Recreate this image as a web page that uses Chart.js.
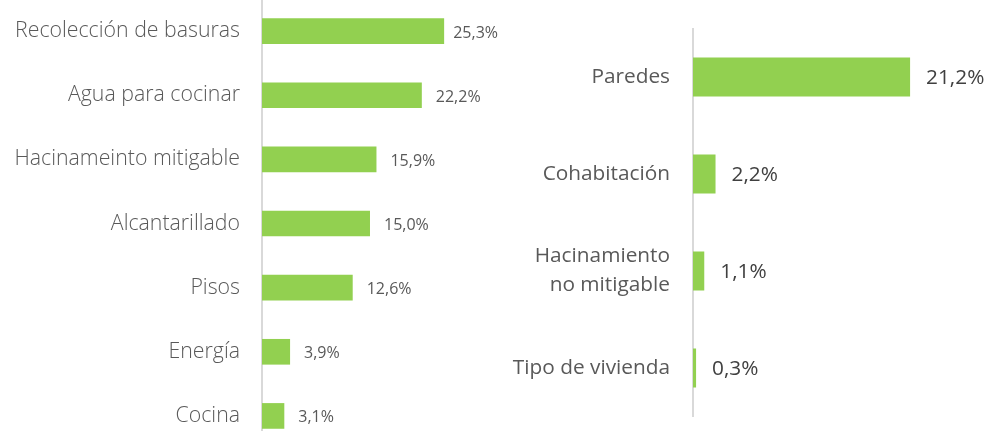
<!DOCTYPE html>
<html>
<head>
<meta charset="utf-8">
<script src="https://cdn.jsdelivr.net/npm/chart.js@4.4.1/dist/chart.umd.min.js"></script>
<style>
  html, body { margin: 0; padding: 0; background: #fff; overflow: hidden; }
  body { width: 992px; height: 431px; position: relative; }
  canvas { position: absolute; }
  #left { left: 0; top: -1px; }
  #right { left: 500px; top: 0; }
</style>
</head>
<body>
<canvas id="left" width="500" height="449"></canvas>
<canvas id="right" width="492" height="431"></canvas>
<script>
/* Two horizontal bar charts: deficit components (%) */
var leftLabels = [
  "Recolección de basuras",
  "Agua para cocinar",
  "Hacinameinto mitigable",
  "Alcantarillado",
  "Pisos",
  "Energía",
  "Cocina"
];
var leftValues = [25.3, 22.2, 15.9, 15.0, 12.6, 3.9, 3.1];

var rightLabels = [
  "Paredes",
  "Cohabitación",
  ["Hacinamiento", "no mitigable"],
  "Tipo de vivienda"
];
var rightValues = [21.2, 2.2, 1.1, 0.3];

var green = "#92d050";
var fontFamily = "'Open Sans', 'Noto Sans', sans-serif";

function fmt(v) {
  return v.toFixed(1).replace(".", ",") + "%";
}

var valueLabels = {
  id: "valueLabels",
  afterDatasetsDraw: function (chart, args, opts) {
    var ctx = chart.ctx;
    var meta = chart.getDatasetMeta(0);
    var data = chart.data.datasets[0].data;
    ctx.save();
    ctx.font = opts.size + "px " + fontFamily;
    ctx.fillStyle = opts.color;
    ctx.textAlign = "left";
    ctx.textBaseline = "middle";
    meta.data.forEach(function (bar, i) {
      var txt = fmt(data[i]);
      var w = ctx.measureText(txt).width;
      var x = Math.min(bar.x + opts.offset, chart.chartArea.right - w - 2);
      ctx.fillText(txt, x, bar.y + opts.dy);
    });
    ctx.restore();
  }
};

function makeChart(id, labels, values, cfg) {
  return new Chart(document.getElementById(id).getContext("2d"), {
    type: "bar",
    data: {
      labels: labels,
      datasets: [{
        data: values,
        backgroundColor: green,
        borderWidth: 0,
        categoryPercentage: 1,
        barPercentage: 0.4
      }]
    },
    options: {
      indexAxis: "y",
      responsive: false,
      animation: false,
      layout: { padding: cfg.padding },
      plugins: {
        legend: { display: false },
        tooltip: { enabled: false },
        valueLabels: cfg.values
      },
      scales: {
        x: { display: false, min: 0, max: cfg.xMax },
        y: {
          afterFit: function (scale) {
            scale.width = cfg.axisWidth;
            scale.paddingTop = 0;
            scale.paddingBottom = 0;
          },
          grid: { display: false, drawTicks: false },
          border: { display: true, color: "#d9d9d9", width: 2 },
          ticks: {
            padding: cfg.tickPadding,
            color: cfg.labelColor,
            font: { family: fontFamily, size: cfg.labelSize, weight: cfg.labelWeight, lineHeight: 1.4 }
          }
        }
      }
    },
    plugins: [valueLabels]
  });
}

makeChart("left", leftLabels, leftValues, {
  padding: { top: 0, bottom: 0, left: 0, right: 0 },
  xMax: 33.06,
  axisWidth: 262,
  tickPadding: 22,
  labelColor: "#595959",
  labelSize: 21.3,
  labelWeight: 300,
  values: { size: 16, color: "#595959", offset: 14, dy: 2 }
});

makeChart("right", rightLabels, rightValues, {
  padding: { top: 28.5, bottom: 14.5, left: 0, right: 0 },
  xMax: 29.2,
  axisWidth: 193,
  tickPadding: 23,
  labelColor: "#595959",
  labelSize: 20.8,
  labelWeight: 400,
  values: { size: 20.8, color: "#404040", offset: 16, dy: 1 }
});
</script>
</body>
</html>
